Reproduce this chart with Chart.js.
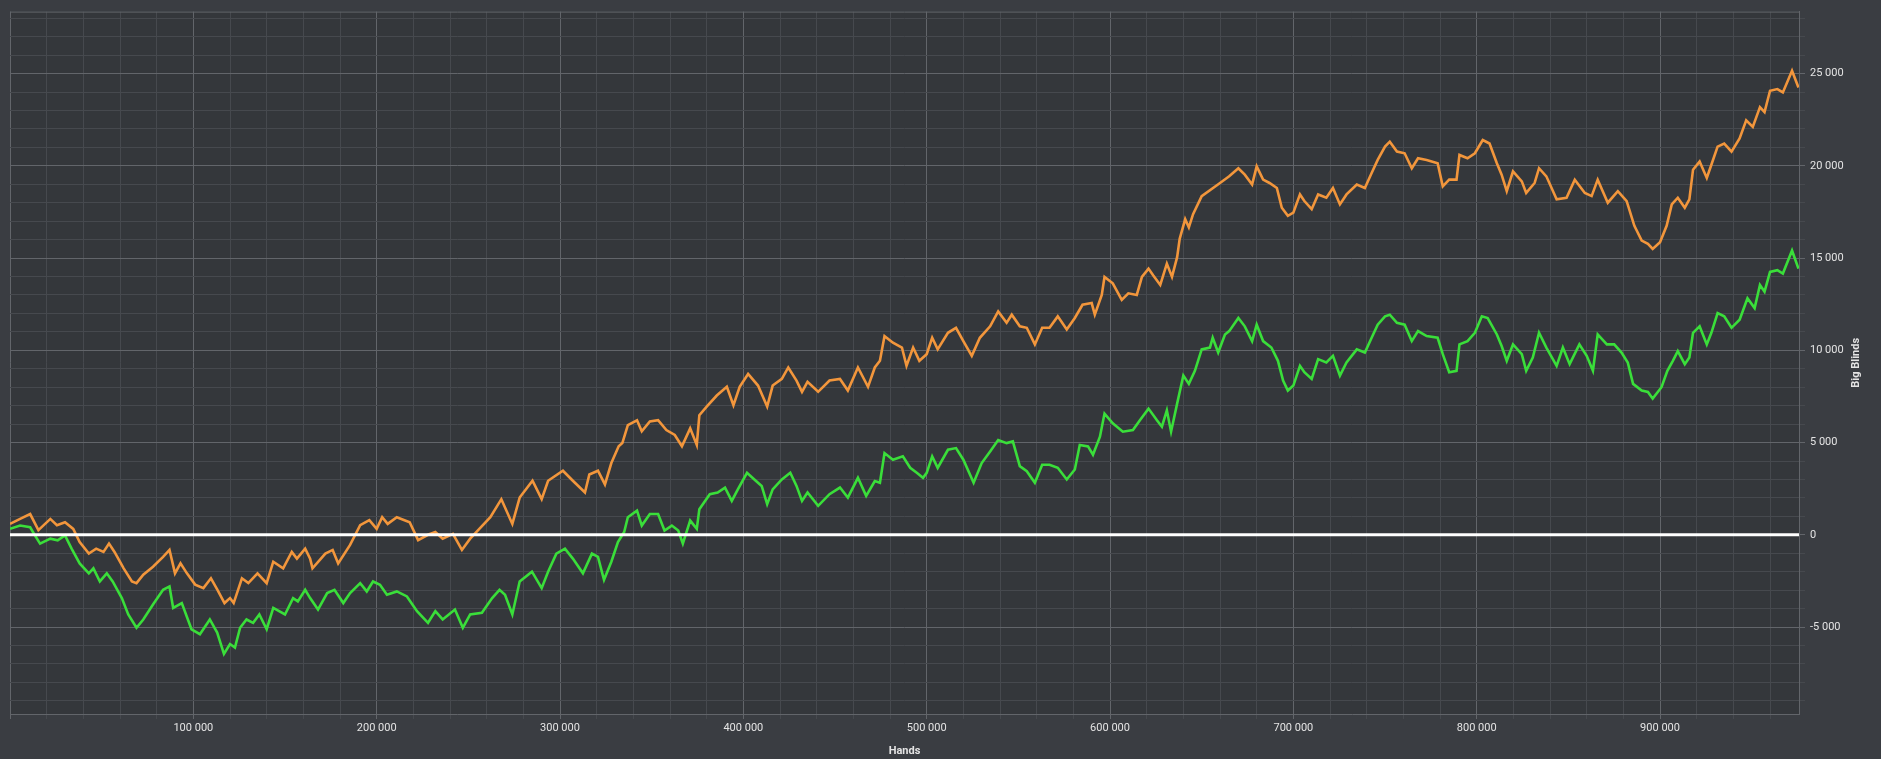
<!DOCTYPE html>
<html><head><meta charset="utf-8">
<script src="https://cdn.jsdelivr.net/npm/chart.js@4.4.1/dist/chart.umd.min.js"></script>
<style>html,body{margin:0;padding:0;background:#3a3d42;overflow:hidden}#wrap{width:1881px;height:759px;position:relative}</style>
</head><body><div id="wrap"><canvas id="c" width="1881" height="759"></canvas></div>
<script>
// ---- data (hands, big blinds) ----
const orangeHands = [0,5500,11000,15500,22000,25600,30000,34500,38000,43000,47000,51000,54000,57000,62000,66500,69000,72700,78000,83500,87000,90000,93000,96500,101000,105500,109600,113000,117000,120000,122000,126500,130000,135000,140000,143600,149000,153700,156500,161000,163700,
165000,172000,176000,179000,185500,191000,196000,200000,203000,206000,211000,218000,222600,228000,232000,236000,241600,246500,251000,256000,262000,268000,274000,278000,285000,290000,293500,301600,307000,313600,316000,320700,324500,328000,332000,
334000,337000,342000,344600,349000,353500,358000,362600,366500,371000,374600,376000,380000,385500,391000,394600,398000,402600,408000,413000,416000,421000,424500,429000,432000,435000,440800,447000,452700,457000,462500,468000,471700,474500,477000,481600,486500,489000,492600,496000,
500000,503000,506000,511600,516000,520000,524600,529000,534600,539000,543600,546400,550800,554600,559000,563000,567000,571500,576400,580800,585000,590000,591700,595500,597000,601500,606400,610000,614600,617400,621000,623500,627400,631000,633800,636600,638000,641000,643000,645300,650000,
660000,665000,670000,673500,677500,680000,683500,687000,691000,693700,697000,700000,703600,706000,710000,713500,718000,721600,725400,729000,734600,739000,742700,746000,750000,752600,756500,760700,764600,768000,772700,778700,781500,785000,789000,790600,795000,799000,803300,807000,811000,813600,816400,819800,824600,
827000,831600,834000,838000,843600,849000,853500,859000,862700,866000,871500,877000,881800,886000,890000,893400,896000,900000,903600,906400,909700,913500,916000,918000,921600,925500,928000,931400,935000,939000,943400,947000,950600,954500,957000,960000,964000,967000,972000,975500];
const orangeBB = [590,860,1125,250,860,520,680,320,-390,-1020,-750,-930,-480,-930,-1820,-2530,-2620,-2160,-1730,-1200,-820,-2090,-1550,-2090,-2700,-2890,-2360,-2960,-3700,-3430,-3700,-2360,-2620,-2090,-2620,-1460,-1820,-930,-1290,-750,-1290,
-1820,-1020,-820,-1550,-550,520,790,320,950,590,950,680,-290,0,150,-210,50,-820,-210,320,950,1930,590,2020,2930,1930,2930,3470,2930,2290,3270,3470,2730,3890,4800,
4970,5950,6210,5610,6140,6210,5680,5410,4800,5770,4870,6480,6950,7550,8020,7020,8020,8720,8090,6950,8090,8450,9070,8360,7750,8290,7750,8360,8450,7820,9070,8020,9070,9430,10770,10410,10150,9160,10150,9430,
9790,10680,10050,10950,11220,10500,9700,10680,11300,12110,11490,11930,11300,11220,10320,11220,11220,11840,11130,11750,12470,12560,11930,13000,13980,13630,12730,13090,13000,13980,14430,14070,13540,14700,13980,15050,16040,17110,16660,17380,18360,
19070,19430,19870,19520,18990,19970,19250,19070,18800,17730,17290,17460,18450,18090,17650,18450,18270,18800,17910,18450,18990,18800,19610,20320,21040,21310,20770,20680,19870,20410,20320,20140,18890,19250,19250,20590,20410,20680,21400,21210,20140,19520,18630,19700,19160,
18530,19070,19870,19430,18180,18270,19250,18530,18360,19250,18000,18630,18090,16750,15950,15770,15500,15860,16750,17910,18270,17730,18180,19790,20230,19340,20060,21040,21210,20770,21480,22470,22110,23180,22910,24070,24160,23980,25150,24250];

const greenHands = [0,5500,11000,13600,16400,22000,26000,30000,33600,38000,43000,45500,49000,52800,56000,61000,64500,69000,72700,78000,83500,87000,89000,93700,99000,103600,109000,113000,116700,120000,122700,125500,129000,132600,136000,140000,143600,150000,154400,157000,161000,163700,
168000,173000,177000,181800,185500,191000,194600,198000,201800,205600,211000,216500,222000,228000,232000,236000,242700,247000,251000,257400,263000,267000,270000,274000,278000,284700,290000,293500,298000,302700,307000,312500,317400,320700,324000,328000,331600,
335000,337000,342000,344600,349000,353500,357000,361000,364500,367000,371000,374600,376000,381700,386000,390000,393700,397000,402000,406000,410000,413000,416000,421000,425600,429000,432000,435000,440800,447000,452700,457000,462500,467000,471700,474500,477000,481600,487000,491000,494600,498000,
500000,503000,506000,511600,516000,520000,525600,530000,534600,539000,543600,547000,550800,554600,559000,563000,567000,571500,576400,580800,583500,588000,590700,594500,597000,601500,607000,612500,616300,621000,625600,628300,631000,633300,636600,640000,643000,646300,650000,654500,656000,659000,662700,
665000,670000,673500,677500,680000,683500,688000,691600,694400,697000,700000,703600,706000,710000,713500,718000,721600,725400,729000,734600,739000,742700,746000,750000,752600,756500,760700,764600,768000,772700,778700,781500,785000,789000,790600,795000,799000,802800,806000,811000,813600,816400,819800,824600,
827000,830600,834000,838000,843600,847000,850700,856000,860000,863400,866000,871000,875000,879000,882400,885300,890000,893400,896000,900800,904000,907000,909700,913500,916000,918000,921600,925500,928000,931400,935000,939000,943400,947700,951600,954500,957000,960000,964000,967000,972000,975500];
const greenBB = [320,500,410,-30,-480,-210,-300,-30,-750,-1550,-2090,-1820,-2530,-2090,-2530,-3430,-4320,-5040,-4590,-3780,-2980,-2800,-3960,-3700,-5120,-5390,-4590,-5300,-6460,-5920,-6110,-5040,-4590,-4770,-4320,-5120,-3960,-4320,-3430,-3610,-2980,-3430,
-4050,-3160,-2980,-3700,-3160,-2620,-3070,-2530,-2710,-3250,-3070,-3340,-4140,-4770,-4140,-4590,-4050,-5040,-4320,-4230,-3430,-2980,-3250,-4320,-2530,-2000,-2890,-2000,-1020,-750,-1290,-2090,-1020,-1200,-2440,-1460,-390,
150,950,1310,500,1125,1125,235,500,235,-480,770,320,1390,2200,2290,2560,1840,2460,3360,3000,2650,1660,2460,3000,3360,2650,1840,2290,1570,2200,2560,2020,3090,2110,2910,2820,4430,4070,4250,3630,3360,3090,
3360,4250,3630,4610,4700,4070,2820,3890,4520,5140,4970,5060,3720,3450,2820,3800,3800,3630,3000,3540,4870,4790,4340,5320,6570,6040,5590,5680,6210,6840,6210,5860,6750,5590,7110,8630,8180,8890,10050,10150,10680,9880,10860,
11040,11750,11300,10500,11390,10500,10150,9430,8360,7820,8090,9160,8810,8450,9520,9340,9700,8630,9340,10050,9880,10680,11390,11840,11930,11490,11390,10500,11040,10770,10680,9790,8810,8890,10320,10500,10950,11840,11750,10860,10230,9430,10320,9790,
8890,9610,10950,10150,9160,10150,9250,10320,9700,8890,10860,10320,10320,9880,9340,8180,7820,7740,7380,8000,8890,9430,9960,9250,9610,10950,11300,10320,10950,12020,11840,11220,11660,12820,12290,13540,13180,14250,14340,14160,15410,14430];

const xTickValues = [100000,200000,300000,400000,500000,600000,700000,800000,900000];
const xTickLabels = ['100 000','200 000','300 000','400 000','500 000','600 000','700 000','800 000','900 000'];
const yTickValues = [-5000,0,5000,10000,15000,20000,25000];
const yTickLabels = ['-5 000','0','5 000','10 000','15 000','20 000','25 000'];

// axis bounds / steps
const X_MIN = 0, X_MAX = 975800, X_STEP = 20000, X_MAJOR = 100000;
const Y_MIN = -9714, Y_MAX = 28360, Y_STEP = 1000, Y_MAJOR = 5000;

// ---- style ----
const PAGE_BG = '#3a3d42', PLOT_BG = '#34373b';
const MAJOR = '#62656a', MINOR = '#46494e';
const TEXT = '#e4e4e4';
const FONT = 'Roboto, "Open Sans", sans-serif';

const toPts = (xs, ys) => xs.map((x, i) => ({x, y: ys[i]}));

function stepTicks(min, max, step) {
  const t = [];
  for (let v = Math.ceil(min / step) * step; v <= max; v += step) t.push({value: v});
  return t;
}

const plotPlugin = {
  id: 'plotBg',
  beforeDraw(chart) {
    const {ctx, chartArea: a} = chart;
    ctx.save();
    ctx.fillStyle = PAGE_BG;
    ctx.fillRect(0, 0, chart.width, chart.height);
    ctx.fillStyle = PLOT_BG;
    ctx.fillRect(a.left, a.top, a.right - a.left, a.bottom - a.top);
    ctx.restore();
  },
  beforeDatasetsDraw(chart) {
    const {ctx, chartArea: a} = chart;
    ctx.save();
    ctx.strokeStyle = MAJOR;
    ctx.lineWidth = 1;
    ctx.beginPath();
    ctx.moveTo(a.left, a.top + 0.5);
    ctx.lineTo(a.right, a.top + 0.5);
    ctx.stroke();
    ctx.restore();
  },
  afterDraw(chart) {
    const {ctx, chartArea: a} = chart;
    ctx.save();
    ctx.fillStyle = TEXT;
    ctx.font = 'bold 11px ' + FONT;
    ctx.textAlign = 'center';
    ctx.textBaseline = 'middle';
    ctx.translate(1856, (a.top + a.bottom) / 2);
    ctx.rotate(-Math.PI / 2);
    ctx.fillText('Big Blinds', 0, 0);
    ctx.restore();
  }
};

new Chart(document.getElementById('c'), {
  type: 'line',
  data: {
    datasets: [
      {label: 'zero', data: [{x: X_MIN, y: 0}, {x: X_MAX, y: 0}], borderColor: '#ffffff', borderWidth: 3, order: -1},
      {label: 'All-in adj', data: toPts(orangeHands, orangeBB), borderColor: '#f2963c', borderWidth: 2.6, order: 1},
      {label: 'Net won', data: toPts(greenHands, greenBB), borderColor: '#3ade3a', borderWidth: 2.6, order: 0}
    ]
  },
  options: {
    responsive: false,
    devicePixelRatio: 1,
    animation: false,
    parsing: true,
    elements: {point: {radius: 0, hoverRadius: 0}, line: {tension: 0}},
    layout: {padding: {left: 10, top: 3, right: 0, bottom: 0}},
    plugins: {legend: {display: false}, tooltip: {enabled: false}},
    events: [],
    scales: {
      x: {
        type: 'linear', position: 'bottom', min: X_MIN, max: X_MAX,
        afterBuildTicks: s => { s.ticks = stepTicks(X_MIN, X_MAX, X_STEP); },
        afterFit: s => { s.height = 45; },
        ticks: {
          autoSkip: false, maxRotation: 0, minRotation: 0, color: TEXT, padding: 3,
          font: {family: FONT, size: 11},
          callback: v => { const i = xTickValues.indexOf(v); return i >= 0 ? xTickLabels[i] : ''; }
        },
        grid: {
          color: c => (c.tick && c.tick.value % X_MAJOR === 0) ? MAJOR : MINOR,
          lineWidth: 1, tickLength: 5, drawTicks: true
        },
        border: {display: true, color: MAJOR, width: 1},
        title: {display: true, text: 'Hands', color: TEXT, font: {family: FONT, size: 11, weight: 'bold'}, padding: {top: 0, bottom: 1}}
      },
      y: {
        type: 'linear', position: 'right', min: Y_MIN, max: Y_MAX,
        afterBuildTicks: s => { s.ticks = stepTicks(Y_MIN, Y_MAX, Y_STEP); },
        afterFit: s => { s.width = 82; },
        ticks: {
          autoSkip: false, color: TEXT, padding: 5,
          font: {family: FONT, size: 11},
          callback: v => { const i = yTickValues.indexOf(v); return i >= 0 ? yTickLabels[i] : ''; }
        },
        grid: {
          color: c => (c.tick && c.tick.value % Y_MAJOR === 0) ? MAJOR : MINOR,
          lineWidth: 1, tickLength: 6, drawTicks: true
        },
        border: {display: true, color: MAJOR, width: 1}
      }
    }
  },
  plugins: [plotPlugin]
});
</script></body></html>
